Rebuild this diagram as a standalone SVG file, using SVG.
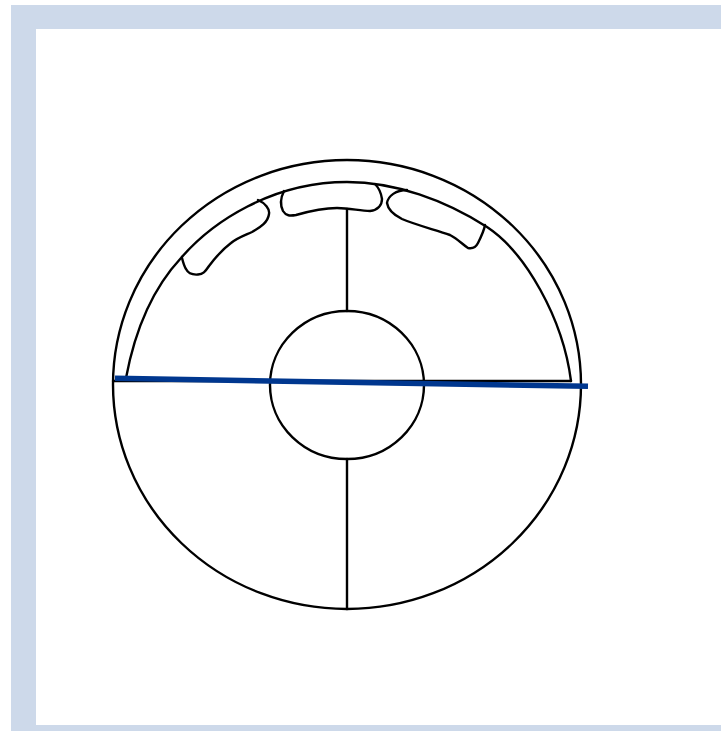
<svg xmlns="http://www.w3.org/2000/svg" width="721" height="731" viewBox="0 0 721 731">
<style>
.l{fill:none;stroke:#000;stroke-width:2.400;stroke-linecap:round;stroke-linejoin:round}
</style>
<rect width="721" height="731" fill="#fff"/>
<g id="frame"><path d="M11 5H721V29H36V725H721V731H11Z" fill="#cdd9ea"/></g>
<g id="outer"><ellipse class="l" cx="347" cy="384.500" rx="234" ry="224.500"/></g>
<g id="hub"><ellipse class="l" cx="347" cy="385" rx="77" ry="74"/></g>
<g id="inner"><path class="l" d="M126 378C135 330 153 288 181 258C212 222 272 182 347 182C395 182 445 200 487 227C525 252 563 318 571 381"/></g>
<g id="pad-left"><path class="l" d="M258 200C265 203 270 209 269 214C268 222 261 227 252 232C243 236 237 238 231 243C223 249 215 258 209 266C205 272 203 274 198 274.500C192 275 188 273 186 269C184 266 183 262 182 258"/></g>
<g id="pad-mid"><path class="l" d="M284 191C281 197 280 205 283 211C286 216 290 216 296 215C310 211 325 208 337 208C350 208 360 211 370 211C378 210 382 205 382 199C381 192 378 187 375 184"/></g>
<g id="pad-right"><path class="l" d="M407 190C396 190 388 196 387 203C388 210 394 215 402 219C416 225 436 230 450 235C458 239 463 245 468 248C473 249 476 247 478 243C481 237 484 231 485 225"/></g>
<g id="connectors">
<path class="l" d="M347 209V311M347 459V609M113 381H571"/>
<path d="M115 378.300L588 386.300" fill="none" stroke="#00378f" stroke-width="5.500"/>
</g>
</svg>
